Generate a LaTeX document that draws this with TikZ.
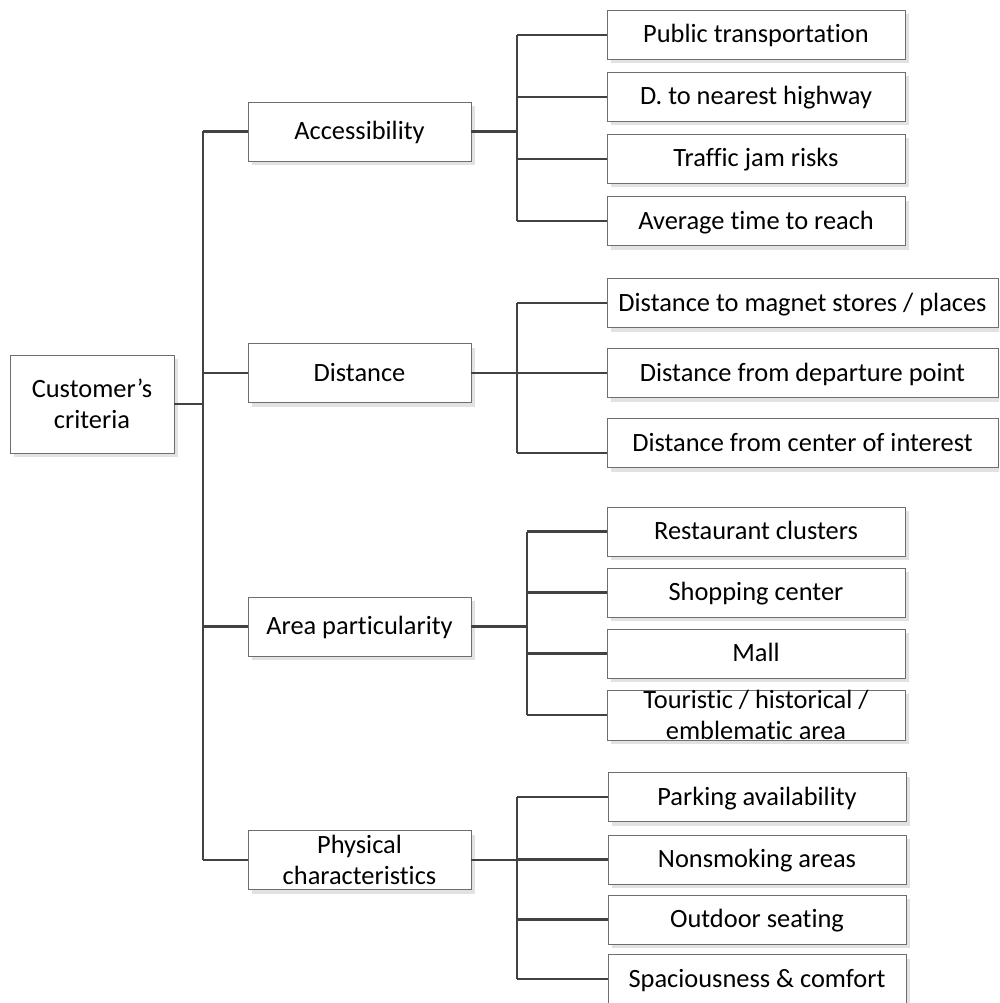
\documentclass[tikz,border=0pt]{standalone}
\usepackage{fontspec}
\setmainfont{Carlito}[Ligatures=NoCommon]
\usetikzlibrary{shadows}
\definecolor{boxline}{HTML}{6E6E6E}
\definecolor{wire}{HTML}{424242}
\definecolor{shade}{HTML}{E2E2E2}
\tikzset{
  box/.style={draw=boxline, line width=0.9pt, fill=white,
    general shadow={fill=shade, shadow xshift=4pt, shadow yshift=-4pt},
    inner sep=0pt, font=\fontsize{26.4pt}{31pt}\selectfont},
  oneline/.style={box, text height=20pt, text depth=4pt},
  twoline/.style={box, align=center},
  mid/.style={minimum width=223pt, minimum height=59pt},
  leaf/.style={minimum width=298pt, minimum height=49pt},
  wideleaf/.style={minimum width=391pt, minimum height=49pt},
  conn/.style={draw=wire, line width=2.6pt}
}
\begin{document}
\begin{tikzpicture}[x=1pt, y=-1pt]
\useasboundingbox (0,0) rectangle (999,1003);
\clip (0,0) rectangle (999,1003);

% root
\node[twoline, minimum width=164pt, minimum height=98pt] (cc) at (92,404) {Customer’s\\criteria};

% second level
\node[oneline, mid] (acc) at (359.5,131.5) {Accessibility};
\node[oneline, mid] (dist) at (359.5,373) {Distance};
\node[oneline, mid] (area) at (359.5,626.5) {Area particularity};
\node[twoline, mid] (phys) at (359.5,860) {Physical\\characteristics};

% accessibility leaves
\node[oneline, leaf] (a1) at (756,35) {Public transportation};
\node[oneline, leaf] (a2) at (756,97) {D. to nearest highway};
\node[oneline, leaf] (a3) at (756,159) {Traffic jam risks};
\node[oneline, leaf] (a4) at (756,221) {Average time to reach};

% distance leaves
\node[oneline, wideleaf] (d1) at (802.5,303) {Distance to magnet stores / places};
\node[oneline, wideleaf] (d2) at (802.5,373) {Distance from departure point};
\node[oneline, wideleaf] (d3) at (802.5,443) {Distance from center of interest};

% area leaves
\node[oneline, leaf] (r1) at (756,531.5) {Restaurant clusters};
\node[oneline, leaf] (r2) at (756,592.5) {Shopping center};
\node[oneline, leaf] (r3) at (756,653.5) {Mall};
\node[twoline, leaf, minimum height=50pt] (r4) at (756,715) {Touristic / historical /\\emblematic area};

% physical leaves
\node[oneline, leaf] (p1) at (757,797) {Parking availability};
\node[oneline, leaf] (p2) at (757,859.5) {Nonsmoking areas};
\node[oneline, leaf] (p3) at (757,919.5) {Outdoor seating};
\node[oneline, leaf] (p4) at (757,979) {Spaciousness \& comfort};

% trunk positions
\coordinate (tk) at (203,0);
\coordinate (ta) at (517,0);
\coordinate (td) at (517,0);
\coordinate (tr) at (527,0);
\coordinate (tp) at (517,0);
\coordinate (d3in) at ([yshift=-10pt]d3.west);

% root to second level
\draw[conn] (cc.east) -- (tk |- cc.east);
\draw[conn] (tk |- acc.west) -- (tk |- phys.west);
\foreach \n in {acc,dist,area,phys}
  \draw[conn] (tk |- \n.west) -- (\n.west);

% accessibility branch
\draw[conn] (acc.east) -- (ta |- acc.east);
\draw[conn] (ta |- a1.west) -- (ta |- a4.west);
\foreach \n in {a1,a2,a3,a4}
  \draw[conn] (ta |- \n.west) -- (\n.west);

% distance branch
\draw[conn] (dist.east) -- (td |- dist.east);
\draw[conn] (td |- d1.west) -- (td |- d3in);
\draw[conn] (td |- d1.west) -- (d1.west);
\draw[conn] (td |- d2.west) -- (d2.west);
\draw[conn] (td |- d3in) -- (d3in);

% area branch
\draw[conn] (area.east) -- (tr |- area.east);
\draw[conn] (tr |- r1.west) -- (tr |- r4.west);
\foreach \n in {r1,r2,r3,r4}
  \draw[conn] (tr |- \n.west) -- (\n.west);

% physical branch
\draw[conn] (phys.east) -- (tp |- phys.east);
\draw[conn] (tp |- p1.west) -- (tp |- p4.west);
\foreach \n in {p1,p2,p3,p4}
  \draw[conn] (tp |- \n.west) -- (\n.west);
\end{tikzpicture}
\end{document}
